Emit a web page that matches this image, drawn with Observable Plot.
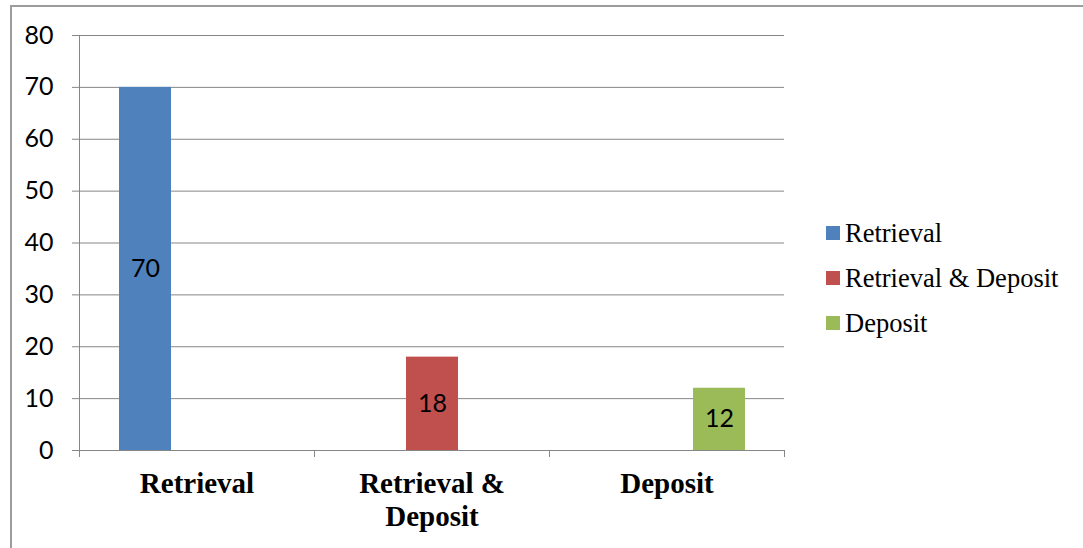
<!DOCTYPE html>
<html><head><meta charset="utf-8">
<script src="https://cdn.jsdelivr.net/npm/d3@7"></script>
<script src="https://cdn.jsdelivr.net/npm/@observablehq/plot@0.6"></script>
<style>
body{margin:0;background:#fff;}
#wrap{position:relative;width:1083px;height:548px;overflow:hidden;background:#fff;}
#chart{position:absolute;left:0;top:0;}
#chart svg{background:transparent !important;}
#border{position:absolute;left:10px;top:5px;width:1200px;height:700px;border-left:2px solid #9c9c9c;border-top:2px solid #9c9c9c;pointer-events:none;}
#legend{position:absolute;left:826px;top:210.5px;font-family:"Liberation Serif","Times New Roman",serif;font-size:26.5px;color:#000;}
.row{display:flex;align-items:center;height:45px;white-space:nowrap;}
.sw{width:14px;height:14px;margin-right:5px;flex:none;}
</style></head><body>
<div id="wrap"><div id="chart"></div><div id="border"></div><div id="legend"></div></div>
<script>
const categories = ["Retrieval", "Retrieval & Deposit", "Deposit"];
const categoryLabels = ["Retrieval", "Retrieval &\nDeposit", "Deposit"];
const series = ["Retrieval", "Retrieval & Deposit", "Deposit"];
const values = [70, 18, 12];
const colors = ["#4F81BD", "#C0504D", "#9BBB59"];
const yTicks = [0, 10, 20, 30, 40, 50, 60, 70, 80];

const data = categories.map((c, i) => ({category: c, series: series[i], value: values[i]}));
const gridColor = "#868686";
const numFont = "Lato, 'Open Sans', sans-serif";

const chart = Plot.plot({
  width: 1083,
  height: 548,
  marginLeft: 79,
  marginRight: 299,
  marginTop: 35,
  marginBottom: 98,
  style: {fontFamily: numFont, background: "transparent"},
  fx: {domain: categories, padding: 0, label: null},
  x: {domain: series, paddingInner: 0, paddingOuter: 0.75, axis: null},
  y: {domain: [0, 80], label: null},
  color: {domain: series, range: colors},
  marks: [
    Plot.gridY(yTicks, {stroke: gridColor, strokeOpacity: 1, strokeWidth: 1}),
    Plot.barY(data, {fx: "category", x: "series", y: "value", fill: "series"}),
    Plot.text(data, {fx: "category", x: "series", y: d => d.value / 2, text: d => String(d.value),
      fill: "black", fontSize: 25, fontFamily: numFont}),
    Plot.axisY({ticks: yTicks, tickSize: 7, tickPadding: 19, stroke: gridColor, strokeOpacity: 1, fill: "black",
      fontSize: 25, fontFamily: numFont, label: null}),
    Plot.axisFx({anchor: "bottom", tickSize: 0, tickPadding: 19, fontSize: 29, fontWeight: "bold",
      fontFamily: "'Liberation Serif', 'Times New Roman', serif", fill: "black",
      lineHeight: 1.14, lineAnchor: "top",
      tickFormat: c => categoryLabels[categories.indexOf(c)], label: null})
  ]
});
document.getElementById("chart").appendChild(chart);

// axis lines and category boundary ticks from the plot's own scales
const fx = chart.scale("fx");
const ys = chart.scale("y");
const y0 = ys.apply(0), yTop = ys.apply(80);
const left = fx.apply(categories[0]);
const right = fx.apply(categories[categories.length - 1]) + fx.bandwidth;
const svg = d3.select(chart.tagName.toLowerCase() === "svg" ? chart : chart.querySelector("svg"));
const g = svg.append("g").attr("stroke", gridColor).attr("stroke-width", 1).attr("shape-rendering", "crispEdges");
g.append("line").attr("x1", left - 7).attr("x2", right).attr("y1", y0).attr("y2", y0);
g.append("line").attr("x1", left).attr("x2", left).attr("y1", yTop).attr("y2", y0 + 7);
const bounds = categories.map(c => fx.apply(c)).concat([right]);
bounds.forEach(b => g.append("line").attr("x1", b).attr("x2", b).attr("y1", y0).attr("y2", y0 + 7));

// legend
const legend = d3.select("#legend");
series.forEach((s, i) => {
  const row = legend.append("div").attr("class", "row");
  row.append("div").attr("class", "sw").style("background", colors[i]);
  row.append("span").text(s);
});
</script>
</body></html>
